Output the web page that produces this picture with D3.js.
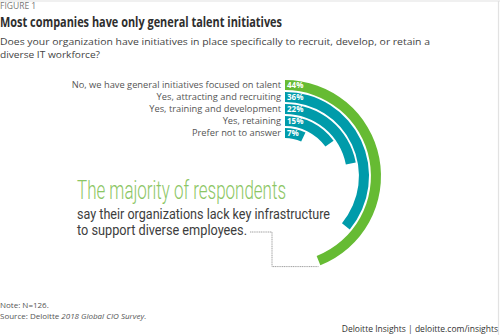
<!DOCTYPE html>
<html>
<head>
<meta charset="utf-8">
<script src="https://cdn.jsdelivr.net/npm/d3@7"></script>
<style>
  html, body { margin: 0; padding: 0; background: #fff; }
  svg { display: block; }
  text { font-family: "Open Sans", "Noto Sans", sans-serif; }
  .callout { font-family: Roboto, "Open Sans", sans-serif; }
</style>
</head>
<body>
<svg id="chart" width="500" height="335"></svg>
<script>
// Survey answers, outermost ring first
const categories = [
  "No, we have general initiatives focused on talent",
  "Yes, attracting and recruiting",
  "Yes, training and development",
  "Yes, retaining",
  "Prefer not to answer"
];
const values = [44, 36, 22, 15, 7];
const valueLabels = ["44%", "36%", "22%", "15%", "7%"];
const barColors = ["#66bb33", "#009baa", "#009baa", "#009baa", "#009baa"];

const rows = categories.map((c, i) => ({ cat: c, value: values[i], label: valueLabels[i], color: barColors[i] }));

const svg = d3.select("#chart");
const W = 500, H = 335;

// light frame along the top and right edges
svg.append("line").attr("x1", 0).attr("x2", W).attr("y1", 1).attr("y2", 1)
  .attr("stroke", "#e2e2e2").attr("stroke-width", 1.2);
svg.append("line").attr("x1", W - 1.5).attr("x2", W - 1.5).attr("y1", 1).attr("y2", H)
  .attr("stroke", "#e2e2e2").attr("stroke-width", 1.2);

// Header
svg.append("text").attr("x", 0).attr("y", 9).attr("font-size", 8.5).attr("fill", "#777")
  .text("FIGURE 1");
svg.append("text").attr("x", 0).attr("y", 27).attr("font-size", 13.5).attr("font-weight", 700)
  .attr("fill", "#2e2e2e").attr("textLength", 282).attr("lengthAdjust", "spacingAndGlyphs")
  .text("Most companies have only general talent initiatives");
svg.append("text").attr("x", 0).attr("y", 45).attr("font-size", 9.5).attr("fill", "#444")
  .attr("textLength", 430).attr("lengthAdjust", "spacingAndGlyphs")
  .text("Does your organization have initiatives in place specifically to recruit, develop, or retain a");
svg.append("text").attr("x", 0).attr("y", 58).attr("font-size", 9.5).attr("fill", "#444")
  .attr("textLength", 100).attr("lengthAdjust", "spacingAndGlyphs")
  .text("diverse IT workforce?");

// Radial bars
const cx = 285, cy = 176;
const g = svg.append("g").attr("transform", `translate(${cx},${cy})`);

const angle = d3.scaleLinear().domain([0, 100]).range([0, 2 * Math.PI]);
const radius = d3.scaleBand()
  .domain(categories.slice().reverse())
  .range([38, 96])
  .paddingInner(0.16);

const arc = d3.arc()
  .innerRadius(d => radius(d.cat))
  .outerRadius(d => radius(d.cat) + radius.bandwidth())
  .startAngle(0)
  .endAngle(d => angle(d.value));

g.selectAll("path.bar").data(rows).join("path")
  .attr("class", "bar")
  .attr("d", arc)
  .attr("fill", d => d.color);

// category names, right-aligned against the ring start
g.selectAll("text.cat").data(rows).join("text")
  .attr("class", "cat")
  .attr("x", -4)
  .attr("y", d => -(radius(d.cat) + radius.bandwidth() / 2) + 3.3)
  .attr("text-anchor", "end")
  .attr("font-size", 9.3)
  .attr("fill", "#555")
  .text(d => d.cat);

// value labels on each ring
g.selectAll("text.val").data(rows).join("text")
  .attr("class", "val")
  .attr("x", 2)
  .attr("y", d => -(radius(d.cat) + radius.bandwidth() / 2) + 3)
  .attr("font-size", 8)
  .attr("font-weight", 700)
  .attr("fill", "#fff")
  .text(d => d.label);

// Callout text
svg.append("text").attr("class", "callout").attr("x", 77).attr("y", 199).attr("font-size", 25).attr("font-weight", 300)
  .attr("fill", "#8cc664").attr("textLength", 209).attr("lengthAdjust", "spacingAndGlyphs")
  .text("The majority of respondents");
svg.append("text").attr("class", "callout").attr("x", 77).attr("y", 219).attr("font-size", 14).attr("font-weight", 400)
  .attr("fill", "#3d3d3d").attr("textLength", 253).attr("lengthAdjust", "spacingAndGlyphs")
  .text("say their organizations lack key infrastructure");
svg.append("text").attr("class", "callout").attr("x", 77).attr("y", 235).attr("font-size", 14).attr("font-weight", 400)
  .attr("fill", "#3d3d3d").attr("textLength", 170).attr("lengthAdjust", "spacingAndGlyphs")
  .text("to support diverse employees.");

// Leader from the callout to the end of the outer ring
const outer = rows[0];
const endA = angle(outer.value);
const rMid = radius(outer.cat) + radius.bandwidth() / 2;
const endX = cx + rMid * Math.sin(endA);
const endY = cy - rMid * Math.cos(endA);
svg.append("path")
  .attr("d", `M250,232 H272 V${endY + 6} H${endX}`)
  .attr("fill", "none")
  .attr("stroke", "#8a8a8a")
  .attr("stroke-width", 0.8)
  .attr("stroke-dasharray", "1.2,0.6");

// Footer
svg.append("text").attr("x", 0).attr("y", 308).attr("font-size", 8).attr("fill", "#555")
  .text("Note: N=126.");
const src = svg.append("text").attr("x", 0).attr("y", 319).attr("font-size", 8).attr("fill", "#555");
src.append("tspan").text("Source: Deloitte ");
src.append("tspan").attr("font-style", "italic").text("2018 Global CIO Survey");
src.append("tspan").text(".");
svg.append("text").attr("x", 498).attr("y", 332).attr("text-anchor", "end").attr("font-size", 8.5)
  .attr("fill", "#333").text("Deloitte Insights | deloitte.com/insights");
</script>
</body>
</html>
